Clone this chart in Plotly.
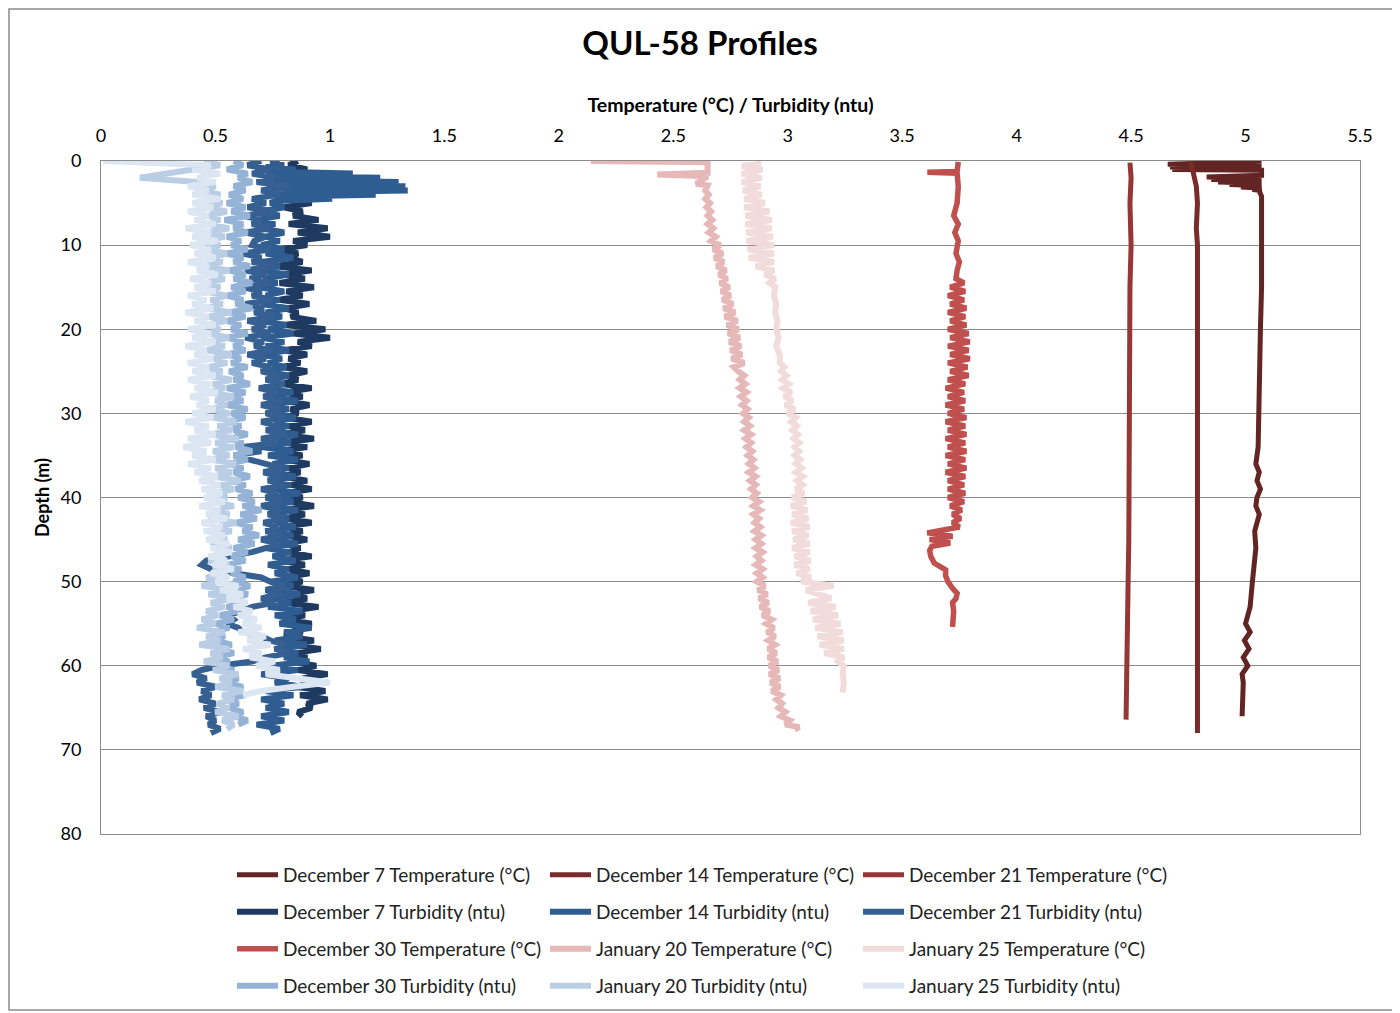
import plotly.graph_objects as go

# ---------------- DATA ----------------
TITLE = "QUL-58 Profiles"
X_TITLE = "Temperature (°C) / Turbidity (ntu)"
Y_TITLE = "Depth (m)"
X_TICKS = [0, 0.5, 1, 1.5, 2, 2.5, 3, 3.5, 4, 4.5, 5, 5.5]
Y_TICKS = [0, 10, 20, 30, 40, 50, 60, 70, 80]


def grid(start, stop, step=0.5):
    """Regular depth sampling (m) from start to stop inclusive."""
    n = int(round((stop - start) / step)) + 1
    return [round(start + i * step, 3) for i in range(n)]


# Temperature profiles (depth m, temperature °C)
dec7_temp_depth = [0, 0.4, 0.55, 0.7, 0.85, 1.0, 1.1, 1.7, 1.9, 2.05, 2.2, 2.35, 2.5, 2.65, 2.8, 2.95,
                   3.1, 3.25, 3.4, 3.5, 3.6, 4.2, 6, 10, 15, 20, 25, 30, 34, 36, 37, 38, 39, 40, 41, 42,
                   44, 46, 48, 50, 53, 55, 56, 57, 58, 59, 60, 61, 62, 64, 66]
dec7_temp = [5.07, 4.66, 5.07, 4.67, 5.07, 4.68, 5.07, 5.07, 4.83, 5.07, 4.85, 5.07, 4.88, 5.07, 4.93, 5.07,
             4.98, 5.07, 5.03, 5.07, 5.06, 5.07, 5.07, 5.075, 5.07, 5.065, 5.06, 5.06, 5.055, 5.045, 5.06,
             5.05, 5.065, 5.05, 5.045, 5.06, 5.04, 5.045, 5.035, 5.03, 5.02, 5.0, 5.02, 4.995, 5.015, 4.99,
             5.01, 4.985, 4.99, 4.985, 4.985]

dec14_temp_depth = [0, 0.5, 1, 2, 3, 5, 8, 10, 15, 20, 25, 30, 35, 40, 45, 50, 55, 60, 65, 68]
dec14_temp = [4.76, 4.765, 4.77, 4.78, 4.785, 4.79, 4.785, 4.79, 4.79, 4.785, 4.79, 4.79, 4.785, 4.79,
              4.79, 4.79, 4.785, 4.79, 4.79, 4.79]

dec21_temp_depth = [0.2, 2, 5, 10, 15, 20, 25, 30, 35, 40, 45, 50, 55, 60, 62, 64, 66.4]
dec21_temp = [4.495, 4.50, 4.495, 4.50, 4.495, 4.495, 4.49, 4.495, 4.49, 4.49, 4.49, 4.487, 4.485,
              4.483, 4.48, 4.48, 4.478]

dec30_temp_depth = [0.1, 0.8, 1.25, 1.35, 1.45, 3, 5, 6.5, 7.5, 8.5, 9.5, 11, 12, 13, 14] + grid(14.5, 43.5) + \
                   [44.2, 44.6, 45.0, 45.4, 45.8, 46.3, 47, 47.8, 48.3, 48.6, 49.3, 50, 50.8, 51.4, 52, 52.5,
                    53.5, 55.4]
dec30_temp = [3.745, 3.74, 3.74, 3.61, 3.74, 3.745, 3.74, 3.725, 3.745, 3.73, 3.745, 3.735, 3.75, 3.74, 3.735,
              3.77, 3.71, 3.775, 3.70, 3.77, 3.71, 3.78, 3.70, 3.775, 3.71, 3.78, 3.70, 3.79, 3.71, 3.795, 3.70,
              3.79, 3.71, 3.795, 3.70, 3.785, 3.71, 3.79, 3.70, 3.775, 3.69, 3.77, 3.70, 3.775, 3.69, 3.77, 3.70,
              3.78, 3.69, 3.775, 3.70, 3.78, 3.69, 3.775, 3.70, 3.78, 3.69, 3.775, 3.70, 3.78, 3.69, 3.775, 3.70,
              3.77, 3.70, 3.775, 3.70, 3.77, 3.71, 3.76, 3.72, 3.755, 3.72, 3.75, 3.61, 3.72, 3.62, 3.71,
              3.63, 3.62, 3.625, 3.64, 3.675, 3.69, 3.69, 3.70, 3.72, 3.74, 3.735, 3.72, 3.725, 3.72]

jan20_temp_depth = [0, 0.15, 1.4, 1.6, 1.8, 2.7, 2.9, 3.5] + grid(4, 64) + \
                   [64.5, 65, 65.5, 66, 66.5, 67, 67.3, 67.6]
jan20_temp = [2.14, 2.65, 2.65, 2.43, 2.65, 2.60, 2.65, 2.64,
              2.655, 2.64, 2.66, 2.645, 2.665, 2.65, 2.67, 2.65, 2.675, 2.655, 2.685, 2.665,
              2.705, 2.675, 2.715, 2.68, 2.72, 2.69, 2.73, 2.70, 2.735, 2.705,
              2.745, 2.71, 2.75, 2.715, 2.76, 2.72, 2.77, 2.725, 2.78, 2.735,
              2.785, 2.74, 2.79, 2.745, 2.795, 2.75, 2.80, 2.755, 2.81, 2.765,
              2.785, 2.81, 2.79, 2.815, 2.79, 2.82, 2.795, 2.82, 2.80, 2.825,
              2.805, 2.83, 2.81, 2.835, 2.81, 2.84, 2.815, 2.84, 2.82, 2.845,
              2.825, 2.85, 2.83, 2.855, 2.83, 2.86, 2.835, 2.86, 2.84, 2.865,
              2.845, 2.875, 2.85, 2.88, 2.85, 2.875, 2.855, 2.88, 2.855, 2.885,
              2.86, 2.885, 2.86, 2.89, 2.865, 2.885, 2.86, 2.89, 2.865, 2.89,
              2.865, 2.90, 2.87, 2.91, 2.875, 2.915, 2.88, 2.92, 2.89, 2.93,
              2.905, 2.94, 2.91, 2.945, 2.915, 2.945, 2.915, 2.95, 2.915, 2.955,
              2.92, 2.96, 2.92, 2.965, 2.925, 2.965, 2.93, 2.97, 2.95,
              2.975, 2.96, 2.99, 2.97, 3.01, 2.99, 3.05, 3.03]

jan25_temp_depth = [0, 0.3, 0.6] + grid(1.0, 15.0) + [16, 17, 18, 19, 20, 21, 22, 23] + grid(24, 50) + \
                   [50.5, 51, 52, 52.5, 53, 53.5, 54, 54.5, 55, 55.5, 56, 56.5, 57, 57.5, 58, 58.5, 59, 59.5,
                    60, 61, 62, 63.2]
jan25_temp = [2.86, 2.88, 2.80,
              2.89, 2.80, 2.885, 2.80, 2.88, 2.805, 2.885, 2.81, 2.90, 2.81, 2.92, 2.815, 2.93, 2.815, 2.93,
              2.82, 2.935, 2.82, 2.94, 2.825, 2.94, 2.83, 2.94, 2.86, 2.94, 2.90, 2.945, 2.92, 2.945,
              2.94, 2.95, 2.945, 2.955, 2.95, 2.96, 2.95, 2.965,
              2.965, 2.985, 2.97, 2.995, 2.975, 3.005, 2.98, 3.015, 2.985, 3.02, 2.99, 3.03, 3.00, 3.035,
              3.015, 3.04, 3.02, 3.045, 3.025, 3.05, 3.03, 3.05, 3.03, 3.055, 3.035, 3.06, 3.035, 3.065,
              3.04, 3.065, 3.035, 3.07, 3.02, 3.08, 3.015, 3.085, 3.02, 3.09, 3.015, 3.095, 3.02, 3.09,
              3.025, 3.095, 3.02, 3.095, 3.03, 3.10, 3.03, 3.095, 3.04, 3.10, 3.06,
              3.20, 3.08, 3.19, 3.09, 3.21, 3.10, 3.22, 3.11, 3.23, 3.12, 3.24, 3.13, 3.245, 3.14, 3.245,
              3.16, 3.245, 3.22, 3.245, 3.24, 3.245, 3.24]

# Turbidity profiles (ntu), sampled every 0.5 m from the surface
dec7_turb = [0.86, 0.82, 0.90, 0.84, 0.88, 0.80, 0.86, 0.83, 0.89, 0.82,
             0.92, 0.80, 0.88, 0.84, 0.95, 0.82, 0.99, 0.86, 1.00, 0.84,
             0.90, 0.78, 0.86, 0.82, 0.88, 0.76, 0.92, 0.80, 0.89, 0.78,
             0.93, 0.81, 0.88, 0.78, 0.91, 0.80, 0.86, 0.83, 0.94, 0.80,
             0.98, 0.84, 1.00, 0.86, 0.92, 0.80, 0.90, 0.82, 0.87, 0.79,
             0.90, 0.82, 0.86, 0.79, 0.92, 0.81, 0.88, 0.80, 0.91, 0.83,
             0.86, 0.80, 0.92, 0.82, 0.89, 0.79, 0.93, 0.81, 0.90, 0.78,
             0.88, 0.80, 0.91, 0.82, 0.87, 0.79, 0.90, 0.83, 0.92, 0.80,
             0.88, 0.82, 0.93, 0.80, 0.89, 0.81, 0.92, 0.79, 0.88, 0.82,
             0.90, 0.80, 0.87, 0.82, 0.92, 0.78, 0.89, 0.81, 0.91, 0.80,
             0.88, 0.79, 0.93, 0.82, 0.90, 0.80, 0.95, 0.83, 0.89, 0.81,
             0.92, 0.84, 0.88, 0.80, 0.93, 0.82, 0.96, 0.84, 0.90, 0.82,
             0.94, 0.86, 0.99, 0.88, 0.93, 0.85, 0.98, 0.87, 0.99, 0.90,
             0.92, 0.86, 0.88]
# December 14: surface peak read every 0.25 m (0-4.75 m), then every 0.5 m from 5 m
dec14_turb_top = [0.78, 0.74, 0.80, 0.72, 0.85, 0.72, 1.10, 0.72, 1.22, 0.72,
                  1.30, 0.74, 1.33, 0.75, 1.34, 0.76, 1.20, 0.76, 1.01, 0.76]
dec14_turb = [0.74, 0.80, 0.70, 0.78, 0.68, 0.76, 0.70, 0.80, 0.72, 0.78,
              0.70, 0.80, 0.72, 0.84, 0.70, 0.78, 0.68, 0.82, 0.71, 0.77,
              0.69, 0.80, 0.72, 0.78, 0.70, 0.82, 0.72, 0.79, 0.69, 0.81,
              0.73, 0.84, 0.70, 0.80, 0.72, 0.82, 0.70, 0.79, 0.73, 0.81,
              0.71, 0.82, 0.74, 0.80, 0.70, 0.84, 0.72, 0.86, 0.74, 0.82,
              0.73, 0.85, 0.76, 0.82, 0.72, 0.86, 0.74, 0.83, 0.70, 0.84,
              0.73, 0.86, 0.75, 0.82, 0.72, 0.85, 0.76, 0.83, 0.74, 0.87,
              0.75, 0.84, 0.72, 0.86, 0.74, 0.82, 0.76, 0.85, 0.73, 0.84,
              0.74, 0.86, 0.72, 0.83, 0.75, 0.85, 0.73, 0.82, 0.76, 0.86,
              0.74, 0.84, 0.72, 0.87, 0.75, 0.83, 0.73, 0.88, 0.76, 0.85,
              0.78, 0.92, 0.80, 0.88, 0.76, 0.90, 0.78, 0.86, 0.80, 0.91,
              0.74, 0.86, 0.70, 0.82, 0.76, 0.88, 0.72, 0.84, 0.70, 0.80,
              0.72, 0.82, 0.70, 0.80, 0.68, 0.78, 0.74]
dec21_turb = [0.70, 0.64, 0.74, 0.66, 0.76, 0.68, 0.82, 0.70, 0.78, 0.66,
              0.72, 0.64, 0.76, 0.62, 0.70, 0.66, 0.74, 0.63, 0.72, 0.67,
              0.66, 0.74, 0.62, 0.70, 0.66, 0.76, 0.63, 0.72, 0.65, 0.74,
              0.62, 0.70, 0.66, 0.75, 0.63, 0.71, 0.67, 0.76, 0.64, 0.72,
              0.66, 0.74, 0.63, 0.71, 0.67, 0.75, 0.64, 0.72, 0.66, 0.74,
              0.70, 0.78, 0.72, 0.80, 0.69, 0.77, 0.71, 0.79, 0.70, 0.78,
              0.72, 0.80, 0.70, 0.78, 0.73, 0.81, 0.70, 0.77, 0.62, 0.70,
              0.58, 0.66, 0.72, 0.79, 0.71, 0.78, 0.73, 0.80, 0.70, 0.77,
              0.72, 0.79, 0.70, 0.78, 0.73, 0.80, 0.71, 0.77, 0.72, 0.79,
              0.70, 0.78, 0.72, 0.66, 0.56, 0.46, 0.44, 0.48, 0.58, 0.70,
              0.74, 0.80, 0.72, 0.78, 0.70, 0.76, 0.66, 0.60, 0.56, 0.58,
              0.55, 0.60, 0.62, 0.70, 0.74, 0.80, 0.76, 0.82, 0.72, 0.66,
              0.52, 0.44, 0.40, 0.46, 0.42, 0.50, 0.44, 0.48, 0.43, 0.50,
              0.45, 0.52, 0.46, 0.50, 0.47, 0.52, 0.48]
dec30_turb = [0.58, 0.62, 0.55, 0.64, 0.60, 0.66, 0.58, 0.63, 0.56, 0.62,
              0.55, 0.63, 0.57, 0.65, 0.54, 0.62, 0.58, 0.64, 0.55, 0.61,
              0.57, 0.64, 0.55, 0.62, 0.58, 0.65, 0.56, 0.63, 0.58, 0.66,
              0.57, 0.63, 0.55, 0.62, 0.59, 0.66, 0.56, 0.63, 0.55, 0.61,
              0.57, 0.64, 0.55, 0.62, 0.58, 0.63, 0.55, 0.61, 0.57, 0.64,
              0.56, 0.62, 0.58, 0.65, 0.55, 0.63, 0.57, 0.62, 0.55, 0.64,
              0.57, 0.63, 0.55, 0.61, 0.58, 0.64, 0.56, 0.62, 0.59, 0.66,
              0.58, 0.64, 0.56, 0.62, 0.58, 0.65, 0.57, 0.63, 0.59, 0.66,
              0.60, 0.67, 0.62, 0.70, 0.61, 0.68, 0.59, 0.66, 0.62, 0.69,
              0.60, 0.67, 0.58, 0.64, 0.57, 0.63, 0.55, 0.61, 0.57, 0.63,
              0.58, 0.65, 0.60, 0.64, 0.57, 0.62, 0.55, 0.60, 0.52, 0.58,
              0.50, 0.56, 0.48, 0.54, 0.50, 0.57, 0.52, 0.58, 0.50, 0.56,
              0.52, 0.58, 0.54, 0.60, 0.55, 0.62, 0.57, 0.63, 0.55, 0.60,
              0.56, 0.62, 0.58, 0.64, 0.60]
jan20_turb = [0.45, 0.52, 0.40, 0.30, 0.17, 0.42, 0.50, 0.44, 0.52, 0.46,
              0.53, 0.45, 0.55, 0.47, 0.52, 0.44, 0.56, 0.46, 0.54, 0.45,
              0.52, 0.46, 0.55, 0.48, 0.53, 0.45, 0.56, 0.47, 0.54, 0.46,
              0.52, 0.45, 0.55, 0.48, 0.53, 0.46, 0.57, 0.47, 0.55, 0.46,
              0.52, 0.47, 0.56, 0.48, 0.54, 0.46, 0.57, 0.49, 0.55, 0.47,
              0.53, 0.46, 0.57, 0.49, 0.54, 0.47, 0.58, 0.50, 0.55, 0.48,
              0.56, 0.49, 0.59, 0.51, 0.57, 0.48, 0.60, 0.50, 0.58, 0.49,
              0.56, 0.48, 0.59, 0.50, 0.57, 0.49, 0.61, 0.52, 0.58, 0.50,
              0.55, 0.48, 0.58, 0.50, 0.56, 0.47, 0.59, 0.51, 0.57, 0.49,
              0.55, 0.48, 0.57, 0.50, 0.54, 0.47, 0.56, 0.49, 0.55, 0.46,
              0.52, 0.44, 0.55, 0.47, 0.58, 0.48, 0.54, 0.46, 0.51, 0.44,
              0.50, 0.42, 0.54, 0.46, 0.52, 0.43, 0.56, 0.48, 0.53, 0.45,
              0.56, 0.49, 0.60, 0.52, 0.57, 0.50, 0.62, 0.53, 0.58, 0.51,
              0.56, 0.50, 0.60, 0.53, 0.58, 0.55]
jan25_turb = [0.01, 0.48, 0.40, 0.52, 0.42, 0.50, 0.38, 0.47, 0.40, 0.52,
              0.40, 0.49, 0.38, 0.47, 0.41, 0.50, 0.37, 0.48, 0.40, 0.51,
              0.39, 0.48, 0.41, 0.50, 0.38, 0.47, 0.42, 0.51, 0.39, 0.48,
              0.41, 0.50, 0.38, 0.46, 0.40, 0.49, 0.37, 0.47, 0.41, 0.50,
              0.38, 0.48, 0.40, 0.50, 0.37, 0.46, 0.41, 0.49, 0.38, 0.47,
              0.40, 0.50, 0.38, 0.48, 0.41, 0.51, 0.39, 0.47, 0.42, 0.50,
              0.40, 0.49, 0.37, 0.47, 0.41, 0.50, 0.38, 0.48, 0.36, 0.46,
              0.40, 0.50, 0.38, 0.48, 0.41, 0.51, 0.43, 0.52, 0.44, 0.53,
              0.45, 0.54, 0.43, 0.52, 0.46, 0.55, 0.44, 0.53, 0.45, 0.54,
              0.46, 0.56, 0.48, 0.57, 0.47, 0.55, 0.49, 0.58, 0.48, 0.56,
              0.50, 0.60, 0.52, 0.62, 0.55, 0.64, 0.58, 0.66, 0.60, 0.68,
              0.62, 0.70, 0.60, 0.72, 0.64, 0.74, 0.62, 0.70, 0.65, 0.76,
              0.68, 0.78, 0.72, 0.86, 1.00, 0.84, 0.70, 0.62]

# ---------------- STYLE ----------------
FONT = "Lato"
C = {
    "dec7_t": "#632523", "dec14_t": "#772c2a", "dec21_t": "#953735",
    "dec7_u": "#1f3a60", "dec14_u": "#2f5d91", "dec21_u": "#376092",
    "dec30_t": "#c0504d", "jan20_t": "#e6b9b8", "jan25_t": "#f2dcdb",
    "dec30_u": "#95b3d7", "jan20_u": "#b9cde5", "jan25_u": "#dce6f2",
}


def tdepth(vals, start=0.0, step=0.5):
    return grid(start, start + step * (len(vals) - 1), step)


dec14_turb_all = dec14_turb_top + dec14_turb
dec14_turb_depth = tdepth(dec14_turb_top, 0.0, 0.25) + tdepth(dec14_turb, 5.0)

series = [
    ("December 7 Temperature (°C)", dec7_temp, dec7_temp_depth, C["dec7_t"], "legend", 5),
    ("December 14 Temperature (°C)", dec14_temp, dec14_temp_depth, C["dec14_t"], "legend", 5),
    ("December 21 Temperature (°C)", dec21_temp, dec21_temp_depth, C["dec21_t"], "legend", 5),
    ("December 7 Turbidity (ntu)", dec7_turb, tdepth(dec7_turb), C["dec7_u"], "legend2", 6),
    ("December 14 Turbidity (ntu)", dec14_turb_all, dec14_turb_depth, C["dec14_u"], "legend2", 6),
    ("December 21 Turbidity (ntu)", dec21_turb, tdepth(dec21_turb), C["dec21_u"], "legend2", 6),
    ("December 30 Temperature (°C)", dec30_temp, dec30_temp_depth, C["dec30_t"], "legend3", 5.5),
    ("January 20 Temperature (°C)", jan20_temp, jan20_temp_depth, C["jan20_t"], "legend3", 6),
    ("January 25 Temperature (°C)", jan25_temp, jan25_temp_depth, C["jan25_t"], "legend3", 6),
    ("December 30 Turbidity (ntu)", dec30_turb, tdepth(dec30_turb), C["dec30_u"], "legend4", 6),
    ("January 20 Turbidity (ntu)", jan20_turb, tdepth(jan20_turb), C["jan20_u"], "legend4", 6),
    ("January 25 Turbidity (ntu)", jan25_turb, tdepth(jan25_turb), C["jan25_u"], "legend4", 6),
]

fig = go.Figure()
for name, xs, ys, col, lg, lw in series:
    fig.add_trace(go.Scatter(
        x=xs, y=ys, mode="lines", name=name, legend=lg,
        line=dict(color=col, width=lw, shape="linear"),
    ))

# the page is rendered with an 8px body margin; positions below are page pixels
OFF = 8
W, H = 1400, 1013
PL, PR, PT, PB = 101, 1360, 161, 834     # plot area edges on the page
L, T = PL - OFF, PT - OFF
R = W - (PR - OFF)
B = H - (PB - OFF)
pw, ph = W - L - R, H - T - B


def px_x(px):
    return (px - OFF - L) / pw


def px_y(py):
    return (H - B - (py - OFF)) / ph


leg_common = dict(orientation="h", xanchor="left", yanchor="middle",
                  entrywidth=257, entrywidthmode="pixels",
                  font=dict(family=FONT, size=19, color="#222222"),
                  bgcolor="rgba(0,0,0,0)", itemwidth=41, tracegroupgap=0)

fig.update_layout(
    width=W, height=H,
    margin=dict(l=L, r=R, t=T, b=B),
    paper_bgcolor="white", plot_bgcolor="white",
    font=dict(family=FONT, size=17, color="#000000"),
    title=dict(text="<b>" + TITLE + "</b>", x=px_x(700), xref="paper", xanchor="center",
               y=1 - (43 - OFF) / H, yanchor="middle",
               font=dict(family=FONT, size=33, color="#000000")),
    showlegend=True,
    legend=dict(x=px_x(232), y=px_y(875), **leg_common),
    legend2=dict(x=px_x(232), y=px_y(912), **leg_common),
    legend3=dict(x=px_x(232), y=px_y(949), **leg_common),
    legend4=dict(x=px_x(232), y=px_y(986), **leg_common),
    xaxis=dict(
        side="top", range=[0, 5.5], tickvals=X_TICKS, ticktext=[f"{v:g}" for v in X_TICKS],
        showgrid=False, zeroline=False, showline=True, mirror=True,
        linecolor="#8c8c8c", linewidth=1, ticks="", ticklabelstandoff=11,
        tickfont=dict(family=FONT, size=18, color="#000000"),
        title=dict(text="<b>" + X_TITLE + "</b>", standoff=5,
                   font=dict(family=FONT, size=19.5, color="#000000")),
    ),
    yaxis=dict(
        range=[80, 0], tickvals=Y_TICKS, ticktext=[str(v) for v in Y_TICKS],
        showgrid=True, gridcolor="#8c8c8c", gridwidth=1, zeroline=False,
        showline=True, mirror=True, linecolor="#8c8c8c", linewidth=1, ticks="",
        ticklabelstandoff=15,
        tickfont=dict(family=FONT, size=18, color="#000000"),
        title=dict(text="<b>" + Y_TITLE + "</b>", standoff=6,
                   font=dict(family=FONT, size=18, color="#000000")),
    ),
    shapes=[dict(type="rect", xref="paper", yref="paper",
                 x0=(1 - L) / pw, x1=(1395 - OFF - L) / pw,
                 y0=(H - B - (1010 - OFF)) / ph, y1=(H - B - 1) / ph,
                 line=dict(color="#8c8c8c", width=1.5), fillcolor="rgba(0,0,0,0)", layer="below")],
)

fig.write_html("out.html")
